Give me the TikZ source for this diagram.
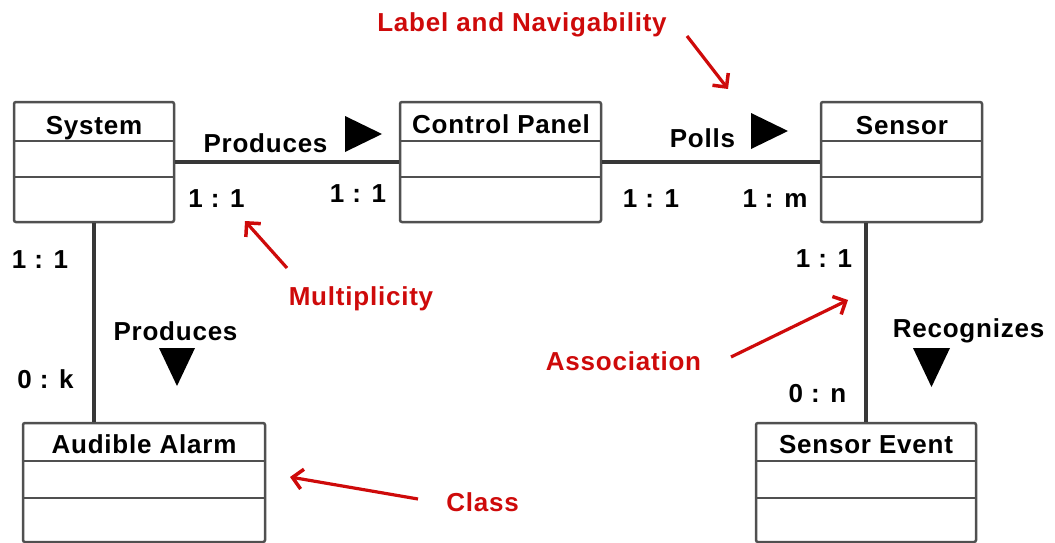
\documentclass[tikz,border=0pt]{standalone}
\usepackage{fontspec}
\setmainfont{Liberation Sans}[LetterSpace=3]
\usetikzlibrary{arrows.meta}
\definecolor{annot}{RGB}{206,10,10}
\definecolor{boxline}{RGB}{80,80,80}
\definecolor{conn}{RGB}{55,55,55}
\begin{document}
\begin{tikzpicture}[x=1pt,y=-1pt,
  classbox/.style={draw=boxline,line width=2.5pt,rounded corners=2pt,fill=white,inner sep=0pt},
  divider/.style={draw=boxline,line width=2.5pt},
  txt/.style={font=\fontsize{26}{30}\selectfont\bfseries,inner sep=0pt,anchor=base},
  note/.style={txt,text=annot},
  assoc/.style={draw=conn,line width=3.8pt},
  pointer/.style={draw=annot,line width=3.2pt,-{Straight Barb[length=10pt,width=20pt,line width=3.5pt]}},
  navtri/.style={fill=black}]
\useasboundingbox (0,0) rectangle (1055,543);

% class boxes
\node[classbox,minimum width=160pt,minimum height=120pt] (sys) at (94,162) {};
\node[classbox,minimum width=201pt,minimum height=120pt] (cp) at (500.5,162) {};
\node[classbox,minimum width=161pt,minimum height=120pt] (sen) at (901.5,162) {};
\node[classbox,minimum width=242pt,minimum height=119pt] (aa) at (144,482.5) {};
\node[classbox,minimum width=220pt,minimum height=119pt] (se) at (866,482.5) {};

% connectors
\draw[assoc] (sys.east) -- (cp.west);
\draw[assoc] (cp.east) -- (sen.west);
\draw[assoc] (sys.south) -- (sys.south |- aa.north);
\draw[assoc] (se.north |- sen.south) -- (se.north);

% dividers
\foreach \b in {sys,cp,sen}{
  \draw[divider] ([yshift=-40pt]\b.north west) -- ([yshift=-40pt]\b.north east);
  \draw[divider] ([yshift=-76pt]\b.north west) -- ([yshift=-76pt]\b.north east);
}
\foreach \b in {aa,se}{
  \draw[divider] ([yshift=-39pt]\b.north west) -- ([yshift=-39pt]\b.north east);
  \draw[divider] ([yshift=-76pt]\b.north west) -- ([yshift=-76pt]\b.north east);
}

% class names
\node[txt] (sys-t) at (94,134) {System};
\node[txt] (cp-t) at (501,133) {Control Panel};
\node[txt] (sen-t) at (902,134) {Sensor};
\node[txt] (aa-t) at (144,453) {Audible Alarm};
\node[txt] (se-t) at (866,453) {Sensor Event};

% association labels
\node[txt] (prod1) at (265.5,152) {Produces};
\node[txt] (polls) at (702.5,147) {Polls};
\node[txt] (prod2) at (175.5,340) {Produces};
\node[txt] (recog) at (968.5,337) {Recognizes};

% navigability triangles
\fill[navtri] (345,116) -- (345,152) -- (382,134) -- cycle;
\fill[navtri] (751,113) -- (751,149) -- (788,131) -- cycle;
\fill[navtri] (159,348) -- (195,348) -- (177,386) -- cycle;
\fill[navtri] (913,348) -- (950,348) -- (931.5,387) -- cycle;

% multiplicities
\node[txt] (m1) at (216.5,207) {1 : 1};
\node[txt] (m2) at (358,202) {1 : 1};
\node[txt] (m3) at (651,207) {1 : 1};
\node[txt] (m4) at (775,207) {1 : m};
\node[txt] (m5) at (40,268) {1 : 1};
\node[txt] (m6) at (45.5,388) {0 : k};
\node[txt] (m7) at (824,267) {1 : 1};
\node[txt] (m8) at (817.5,402) {0 : n};

% annotations
\node[note] (nLN) at (522,32) {Label and Navigability};
\node[note] (nMul) at (361,305) {Multiplicity};
\node[note] (nAss) at (623.5,370) {Association};
\node[note] (nCls) at (482.5,511) {Class};

\coordinate (lnTail) at (687,36);
\coordinate (lnTip) at (728,89);
\coordinate (mulTail) at (287,268);
\coordinate (mulTip) at (245,221);
\coordinate (assTail) at (731,357);
\coordinate (assTip) at (848,300);
\coordinate (clsTail) at (418,499);
\coordinate (clsTip) at (290,477);

\draw[pointer] (lnTail) -- (lnTip);
\draw[pointer] (mulTail) -- (mulTip);
\draw[pointer] (assTail) -- (assTip);
\draw[pointer] (clsTail) -- (clsTip);
\end{tikzpicture}
\end{document}
